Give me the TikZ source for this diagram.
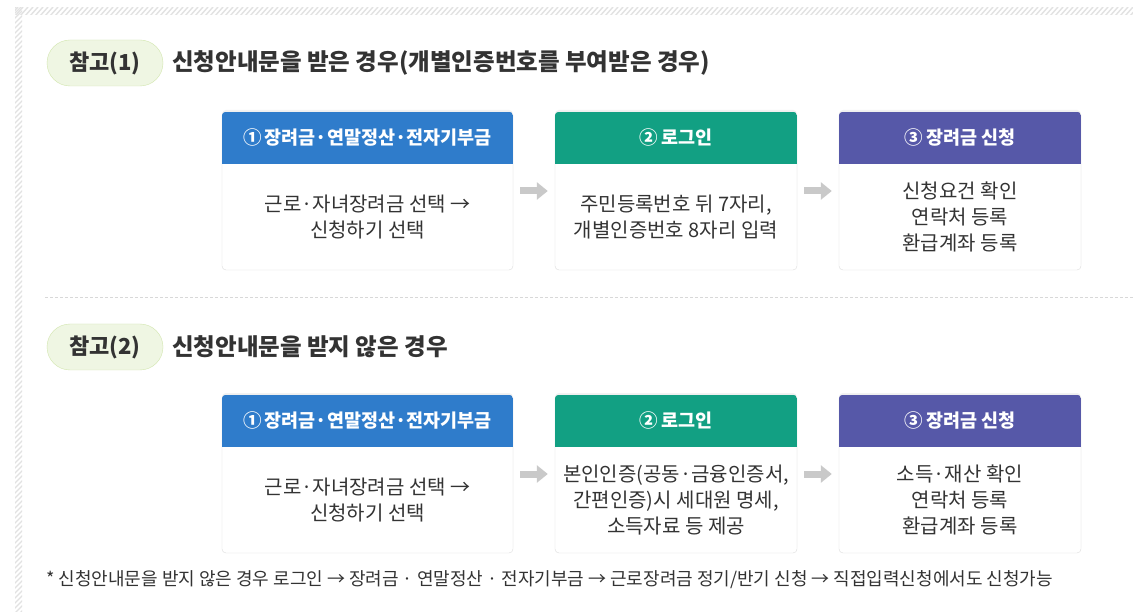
\documentclass[tikz,border=0pt]{standalone}
\usepackage{fontspec}
\setmainfont{Noto Sans CJK KR}
\usetikzlibrary{arrows.meta}
\definecolor{txt}{HTML}{333333}
\definecolor{hblue}{HTML}{2F7CCB}
\definecolor{hgreen}{HTML}{12A083}
\definecolor{hpurple}{HTML}{5658A8}
\definecolor{cardline}{HTML}{DCDCDC}
\definecolor{pillfill}{HTML}{EFF6E3}
\definecolor{pillline}{HTML}{D2E6AE}
\definecolor{hatchc}{HTML}{E2E2E2}
\definecolor{arrowc}{HTML}{C9C9C9}
\definecolor{sepc}{HTML}{D8D8D8}
\newcommand\mkcard[7]{%
  \fill[black!5,rounded corners=4pt] ([shift={(-#4/2,-77pt)}]#2,#3) rectangle ([shift={(#4/2,81pt)}]#2,#3);
  \node[card, minimum width=#4] (#1) at (#2,#3) {};
  \begin{scope}
    \clip[rounded corners=4pt] (#1.north west) rectangle (#1.south east);
    \fill[#5] (#1.north west) rectangle ([yshift=-52pt]#1.north east);
  \end{scope}
  \node[hdrtxt] (#1h) at ([yshift=-26pt]#1.north) {#6};
  \node[bodytxt] (#1b) at ([yshift=-105pt]#1.north) {#7};
}
\begin{document}
\begin{tikzpicture}[x=1pt,y=-1pt,
  hatch/.style={hatchc, line width=1.4pt},
  card/.style={draw=cardline, fill=white, rounded corners=4pt, minimum height=158pt, inner sep=0pt},
  hdrtxt/.style={text=white, font=\bfseries\fontsize{18.5}{21}\selectfont},
  bodytxt/.style={text=txt, align=center, font=\fontsize{20}{26}\selectfont},
  pill/.style={draw=pillline, fill=pillfill, rounded corners=23pt, minimum width=116pt, minimum height=46pt, inner sep=0pt, text=txt, font=\bfseries\fontsize{22}{24}\selectfont},
  title/.style={anchor=west, text=txt, font=\bfseries\fontsize{23.5}{26}\selectfont, inner sep=0pt},
  garrow/.style={line width=7pt, arrowc, -{Triangle[length=11pt,width=17pt]}},
  sep/.style={sepc, line width=0.8pt, dash pattern=on 3pt off 2pt}]
\useasboundingbox[fill=white] (0,0) rectangle (1133,612);
% hatched frame
\begin{scope}
  \clip (15,8) rectangle (1133,15);
  \foreach \i in {0,5,...,1140} \draw[hatch] (\i,16) -- (\i+8,7);
\end{scope}
\begin{scope}
  \clip (15,8) rectangle (22,612);
  \foreach \j in {0,5,...,620} \draw[hatch] (14,\j+9) -- (23,\j);
\end{scope}
% section 1
\node[pill] (p1) at (105,63) {참고(1)};
\node[title] (t1) at (172,63) {신청안내문을 받은 경우(개별인증번호를 부여받은 경우)};
\mkcard{a1}{367.5}{191}{291pt}{hblue}{①\,장려금·연말정산·전자기부금}{근로·자녀장려금 선택 →\\신청하기 선택}
\mkcard{b1}{676}{191}{242pt}{hgreen}{②\,로그인}{주민등록번호 뒤 7자리,\\개별인증번호 8자리 입력}
\mkcard{c1}{960}{191}{242pt}{hpurple}{③\,장려금 신청}{신청요건 확인\\연락처 등록\\환급계좌 등록}
\draw[garrow] ([xshift=7pt]a1.east) -- ([xshift=-7pt]b1.west);
\draw[garrow] ([xshift=7pt]b1.east) -- ([xshift=-7pt]c1.west);
% separator
\coordinate (s0) at (45,297);
\coordinate (s1) at (1133,297);
\draw[sep] (s0) -- (s1);
% section 2
\node[pill] (p2) at (105,347) {참고(2)};
\node[title] (t2) at (172,347) {신청안내문을 받지 않은 경우};
\mkcard{a2}{367.5}{474}{291pt}{hblue}{①\,장려금·연말정산·전자기부금}{근로·자녀장려금 선택 →\\신청하기 선택}
\mkcard{b2}{676}{474}{242pt}{hgreen}{②\,로그인}{본인인증(공동·금융인증서,\\간편인증)시 세대원 명세,\\소득자료 등 제공}
\mkcard{c2}{960}{474}{242pt}{hpurple}{③\,장려금 신청}{소득·재산 확인\\연락처 등록\\환급계좌 등록}
\draw[garrow] ([xshift=7pt]a2.east) -- ([xshift=-7pt]b2.west);
\draw[garrow] ([xshift=7pt]b2.east) -- ([xshift=-7pt]c2.west);
% footnote
\node[anchor=west, inner sep=0pt, text=txt, font=\fontsize{18}{20}\selectfont] (fn) at (46,580) {* 신청안내문을 받지 않은 경우 로그인 → 장려금 · 연말정산 · 전자기부금 → 근로장려금 정기/반기 신청 → 직접입력신청에서도 신청가능};
\end{tikzpicture}
\end{document}
